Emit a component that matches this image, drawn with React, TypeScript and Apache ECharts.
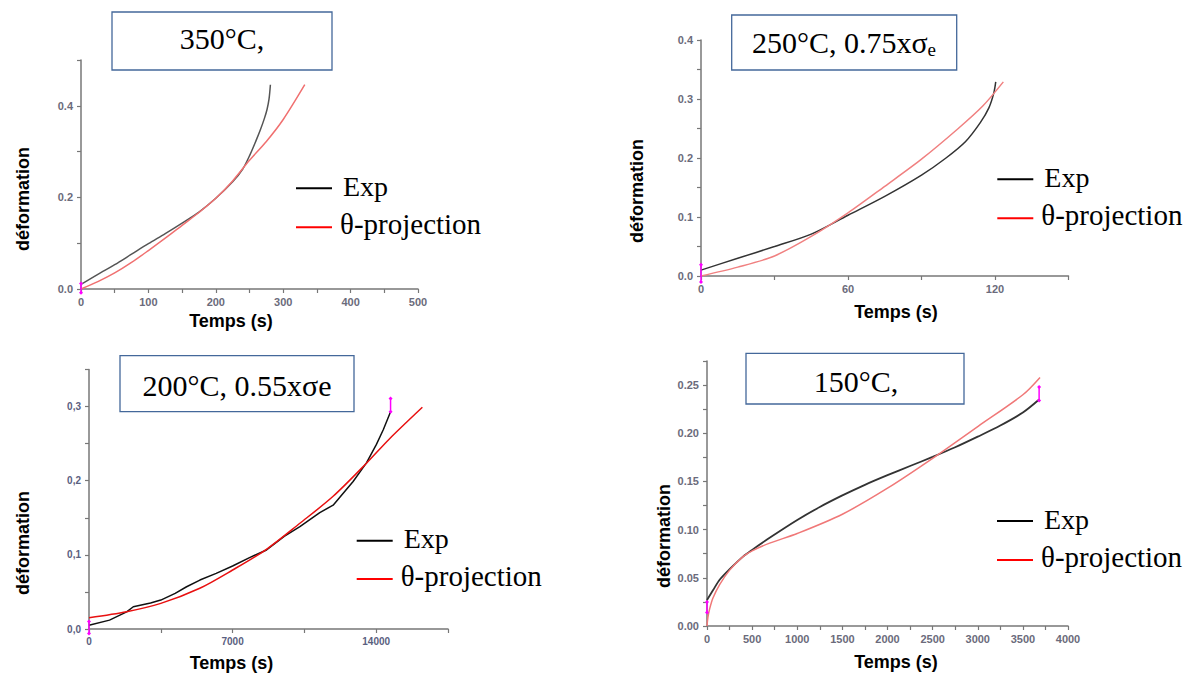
import React, { useEffect, useRef } from "react";
import * as echarts from "echarts";

// ---------- Panel 1 : 350°C ----------
const p1ExpTime = [0, 25, 50, 75, 100, 125, 150, 175, 200, 225, 240, 251, 260, 266, 272, 276, 279, 281];
const p1ExpStrain = [0.01, 0.032, 0.053, 0.076, 0.099, 0.121, 0.144, 0.168, 0.198, 0.234, 0.262, 0.294, 0.325, 0.347, 0.372, 0.392, 0.415, 0.446];
const p1ThetaTime = [0, 25, 50, 75, 100, 125, 150, 175, 200, 225, 250, 275, 300, 332];
const p1ThetaStrain = [0, 0.016, 0.035, 0.058, 0.084, 0.111, 0.139, 0.167, 0.198, 0.236, 0.281, 0.322, 0.37, 0.446];
const p1MarkTime = [0, 0];
const p1MarkStrain = [-0.008, 0.012];

// ---------- Panel 2 : 250°C, 0.75xσe ----------
const p2ExpTime = [0, 15, 30, 45, 60, 75, 90, 100, 108, 114, 117.5, 119.5, 120.3];
const p2ExpStrain = [0.01, 0.03, 0.05, 0.071, 0.103, 0.135, 0.171, 0.2, 0.228, 0.26, 0.285, 0.31, 0.329];
const p2ThetaTime = [0, 15, 30, 45, 60, 75, 90, 105, 115, 123.4];
const p2ThetaStrain = [0, 0.015, 0.034, 0.067, 0.107, 0.152, 0.198, 0.25, 0.288, 0.329];
const p2MarkTime = [0, 0];
const p2MarkStrain = [-0.01, 0.019];

// ---------- Panel 3 : 200°C, 0.55xσe ----------
const p3ExpTime = [0, 1000, 1835, 2160, 3000, 3500, 4200, 4757, 5406, 6200, 7000, 7800, 8654, 9515, 10280, 11250, 11900, 12875, 13525, 14011, 14350, 14700];
const p3ExpStrain = [0.005, 0.012, 0.023, 0.03, 0.035, 0.039, 0.048, 0.057, 0.066, 0.075, 0.085, 0.096, 0.1066, 0.125, 0.138, 0.157, 0.167, 0.199, 0.224, 0.249, 0.269, 0.293];
const p3ThetaTime = [0, 1835, 3500, 5400, 7000, 8650, 10280, 11900, 13525, 14630, 16250];
const p3ThetaStrain = [0.0153, 0.0234, 0.0346, 0.055, 0.0796, 0.1075, 0.1426, 0.179, 0.2236, 0.256, 0.299];
const p3MarkStartTime = [0, 0];
const p3MarkStartStrain = [-0.006, 0.01];
const p3MarkEndTime = [14700, 14700];
const p3MarkEndStrain = [0.293, 0.311];

// ---------- Panel 4 : 150°C ----------
const p4ExpTime = [0, 66, 140, 251, 399, 500, 694, 1000, 1250, 1500, 1750, 2000, 2250, 2500, 2750, 3000, 3250, 3500, 3680];
const p4ExpStrain = [0.027, 0.037, 0.048, 0.059, 0.072, 0.079, 0.0915, 0.11, 0.1235, 0.1355, 0.1465, 0.1565, 0.166, 0.1755, 0.1855, 0.1965, 0.208, 0.2215, 0.235];
const p4ThetaTime = [0, 10, 30, 66, 140, 251, 399, 500, 694, 1000, 1500, 2000, 2500, 3000, 3500, 3690];
const p4ThetaStrain = [0, 0.009, 0.018, 0.029, 0.043, 0.058, 0.072, 0.078, 0.086, 0.096, 0.116, 0.143, 0.174, 0.207, 0.24, 0.258];
const p4MarkStartTime = [0, 0];
const p4MarkStartStrain = [0.014, 0.025];
const p4MarkEndTime = [3680, 3680];
const p4MarkEndStrain = [0.234, 0.248];

const LEGEND_EXP = "Exp";
const LEGEND_THETA = "θ-projection";
const X_TITLE = "Temps (s)";
const Y_TITLE = "déformation";

const zip = (a: number[], b: number[]) => a.map((v, i) => [v, b[i]]);

const fmt = (step: number, digits: number, comma = false) => (v: number) => {
  const r = v / step;
  if (Math.abs(r - Math.round(r)) > 1e-6) return "";
  const s = v.toFixed(digits);
  return comma ? s.replace(".", ",") : s;
};

const SANS = '"Liberation Sans", Arial, sans-serif';
const SERIF = '"Liberation Serif", "Times New Roman", serif';

function axisBase(labelColor: string, labelSize: number) {
  return {
    type: "value" as const,
    axisLine: { show: true, lineStyle: { color: "#777", width: 1.5 } },
    axisTick: { show: true, inside: false, length: 4, lineStyle: { color: "#777", width: 1.2 } },
    splitLine: { show: false },
    axisLabel: {
      color: labelColor,
      fontSize: labelSize,
      fontWeight: "bold" as const,
      fontFamily: SANS,
    },
  };
}

function xAx(grid: number, max: number, interval: number, labelStep: number, color: string, size: number) {
  const b = axisBase(color, size);
  return {
    ...b,
    gridIndex: grid,
    min: 0,
    max,
    interval,
    axisLabel: { ...b.axisLabel, margin: 7, formatter: fmt(labelStep, 0) },
  };
}

function yAx(grid: number, max: number, interval: number, labelStep: number, digits: number, comma: boolean, color: string, size: number) {
  const b = axisBase(color, size);
  return {
    ...b,
    gridIndex: grid,
    min: 0,
    max,
    interval,
    axisLabel: { ...b.axisLabel, margin: 8, formatter: fmt(labelStep, digits, comma) },
  };
}

function curve(idx: number, name: string, data: number[][], color: string, width = 1.5, smooth: number | boolean = 0.3) {
  return {
    type: "line" as const,
    name,
    xAxisIndex: idx,
    yAxisIndex: idx,
    data,
    showSymbol: false,
    symbol: "none",
    smooth,
    lineStyle: { color, width },
    silent: true,
  };
}

function marker(idx: number, data: number[][]) {
  return {
    type: "line" as const,
    xAxisIndex: idx,
    yAxisIndex: idx,
    data,
    clip: false,
    symbol: "diamond",
    symbolSize: 4,
    showSymbol: true,
    itemStyle: { color: "#ff00ff" },
    lineStyle: { color: "#ff00ff", width: 1.5 },
    silent: true,
  };
}

function box(x: number, y: number, w: number, h: number) {
  return {
    type: "rect",
    shape: { x, y, width: w, height: h },
    style: { fill: "#fff", stroke: "#44689a", lineWidth: 1.3 },
    z: 10,
  };
}

function boxText(x: number, y: number, text: string) {
  return {
    type: "text",
    x,
    y,
    z: 11,
    style: {
      text,
      fill: "#000",
      font: `30px ${SERIF}`,
      textAlign: "center",
      textVerticalAlign: "middle",
    },
  };
}

function legend(lineX: number, blackY: number, redY: number) {
  return [
    { type: "line", shape: { x1: lineX, y1: blackY, x2: lineX + 36, y2: blackY }, style: { stroke: "#000", lineWidth: 2 }, z: 10 },
    { type: "line", shape: { x1: lineX, y1: redY, x2: lineX + 36, y2: redY }, style: { stroke: "#ff0000", lineWidth: 2 }, z: 10 },
    {
      type: "text", x: lineX + 47, y: blackY - 2, z: 10,
      style: { text: LEGEND_EXP, fill: "#000", font: `28px ${SERIF}`, textAlign: "left", textVerticalAlign: "middle" },
    },
    {
      type: "text", x: lineX + 44, y: redY - 3, z: 10,
      style: { text: LEGEND_THETA, fill: "#000", font: `29px ${SERIF}`, textAlign: "left", textVerticalAlign: "middle" },
    },
  ];
}

function titles(yx: number, yy: number, xx: number, xy: number) {
  return [
    {
      type: "text", x: yx, y: yy, rotation: Math.PI / 2, z: 10,
      style: { text: Y_TITLE, fill: "#000", font: `bold 18px ${SANS}`, textAlign: "center", textVerticalAlign: "middle" },
    },
    {
      type: "text", x: xx, y: xy, z: 10,
      style: { text: X_TITLE, fill: "#000", font: `bold 18px ${SANS}`, textAlign: "center", textVerticalAlign: "middle" },
    },
  ];
}

export default function App() {
  const ref = useRef<HTMLDivElement>(null);

  useEffect(() => {
    if (!ref.current) return;
    const chart = echarts.init(ref.current, undefined, { renderer: "svg" });
    const lab = "#6b6b7b";
    const option = {
      animation: false,
      backgroundColor: "#fff",
      grid: [
        { left: 81, top: 60, width: 337, height: 229 },
        { left: 701, top: 40, width: 367.5, height: 236 },
        { left: 89, top: 369.5, width: 359, height: 259.5 },
        { left: 707, top: 361, width: 361, height: 265 },
      ],
      xAxis: [
        xAx(0, 500, 50, 100, lab, 11),
        xAx(1, 150, 30, 60, lab, 11),
        xAx(2, 17500, 3500, 7000, "#5a6080", 10),
        xAx(3, 4000, 250, 500, lab, 11),
      ],
      yAxis: [
        yAx(0, 0.5, 0.1, 0.2, 1, false, lab, 11),
        yAx(1, 0.4, 0.05, 0.1, 1, false, lab, 11),
        yAx(2, 0.35, 0.05, 0.1, 1, true, "#5a6080", 10),
        yAx(3, 0.275, 0.025, 0.05, 2, false, lab, 11),
      ],
      series: [
        curve(0, LEGEND_EXP, zip(p1ExpTime, p1ExpStrain), "#555"),
        curve(0, LEGEND_THETA, zip(p1ThetaTime, p1ThetaStrain), "#f07070"),
        marker(0, zip(p1MarkTime, p1MarkStrain)),

        curve(1, LEGEND_EXP, zip(p2ExpTime, p2ExpStrain), "#333"),
        curve(1, LEGEND_THETA, zip(p2ThetaTime, p2ThetaStrain), "#f08080"),
        marker(1, zip(p2MarkTime, p2MarkStrain)),

        curve(2, LEGEND_EXP, zip(p3ExpTime, p3ExpStrain), "#111", 1.5, false),
        curve(2, LEGEND_THETA, zip(p3ThetaTime, p3ThetaStrain), "#e81010"),
        marker(2, zip(p3MarkStartTime, p3MarkStartStrain)),
        marker(2, zip(p3MarkEndTime, p3MarkEndStrain)),

        curve(3, LEGEND_EXP, zip(p4ExpTime, p4ExpStrain), "#333", 1.8),
        curve(3, LEGEND_THETA, zip(p4ThetaTime, p4ThetaStrain), "#f07878"),
        marker(3, zip(p4MarkStartTime, p4MarkStartStrain)),
        marker(3, zip(p4MarkEndTime, p4MarkEndStrain)),
      ],
      graphic: [
        box(112, 12, 220, 58),
        boxText(222, 38.5, "350°C,"),
        box(731.7, 15, 225, 55),
        {
          type: "text",
          x: 844,
          y: 42.5,
          z: 11,
          style: {
            text: "{a|250°C, 0.75xσ}{s|e}",
            textAlign: "center",
            textVerticalAlign: "middle",
            rich: {
              a: { fontFamily: SERIF, fontSize: 30, fill: "#000", color: "#000", lineHeight: 32 },
              s: { fontFamily: SERIF, fontSize: 19, fill: "#000", color: "#000", verticalAlign: "bottom", lineHeight: 26 },
            },
          },
        },
        box(120, 355.7, 234, 56),
        boxText(237, 385, "200°C, 0.55xσe"),
        box(746, 353.3, 218, 50.7),
        boxText(856, 381, "150°C,"),

        ...legend(296, 188.3, 227.3),
        ...legend(997.3, 179.3, 218.3),
        ...legend(356.7, 540.7, 579),
        ...legend(997, 521, 560),

        ...titles(22.5, 199, 231, 321),
        ...titles(637, 191, 896, 312),
        ...titles(22.5, 543, 231.5, 663),
        ...titles(663.5, 536, 896, 662),
      ],
    };
    chart.setOption(option as any);
    return () => chart.dispose();
  }, []);

  return (
    <div
      ref={ref}
      style={{ position: "absolute", left: 0, top: 0, width: 1190, height: 675, background: "#fff" }}
    />
  );
}
